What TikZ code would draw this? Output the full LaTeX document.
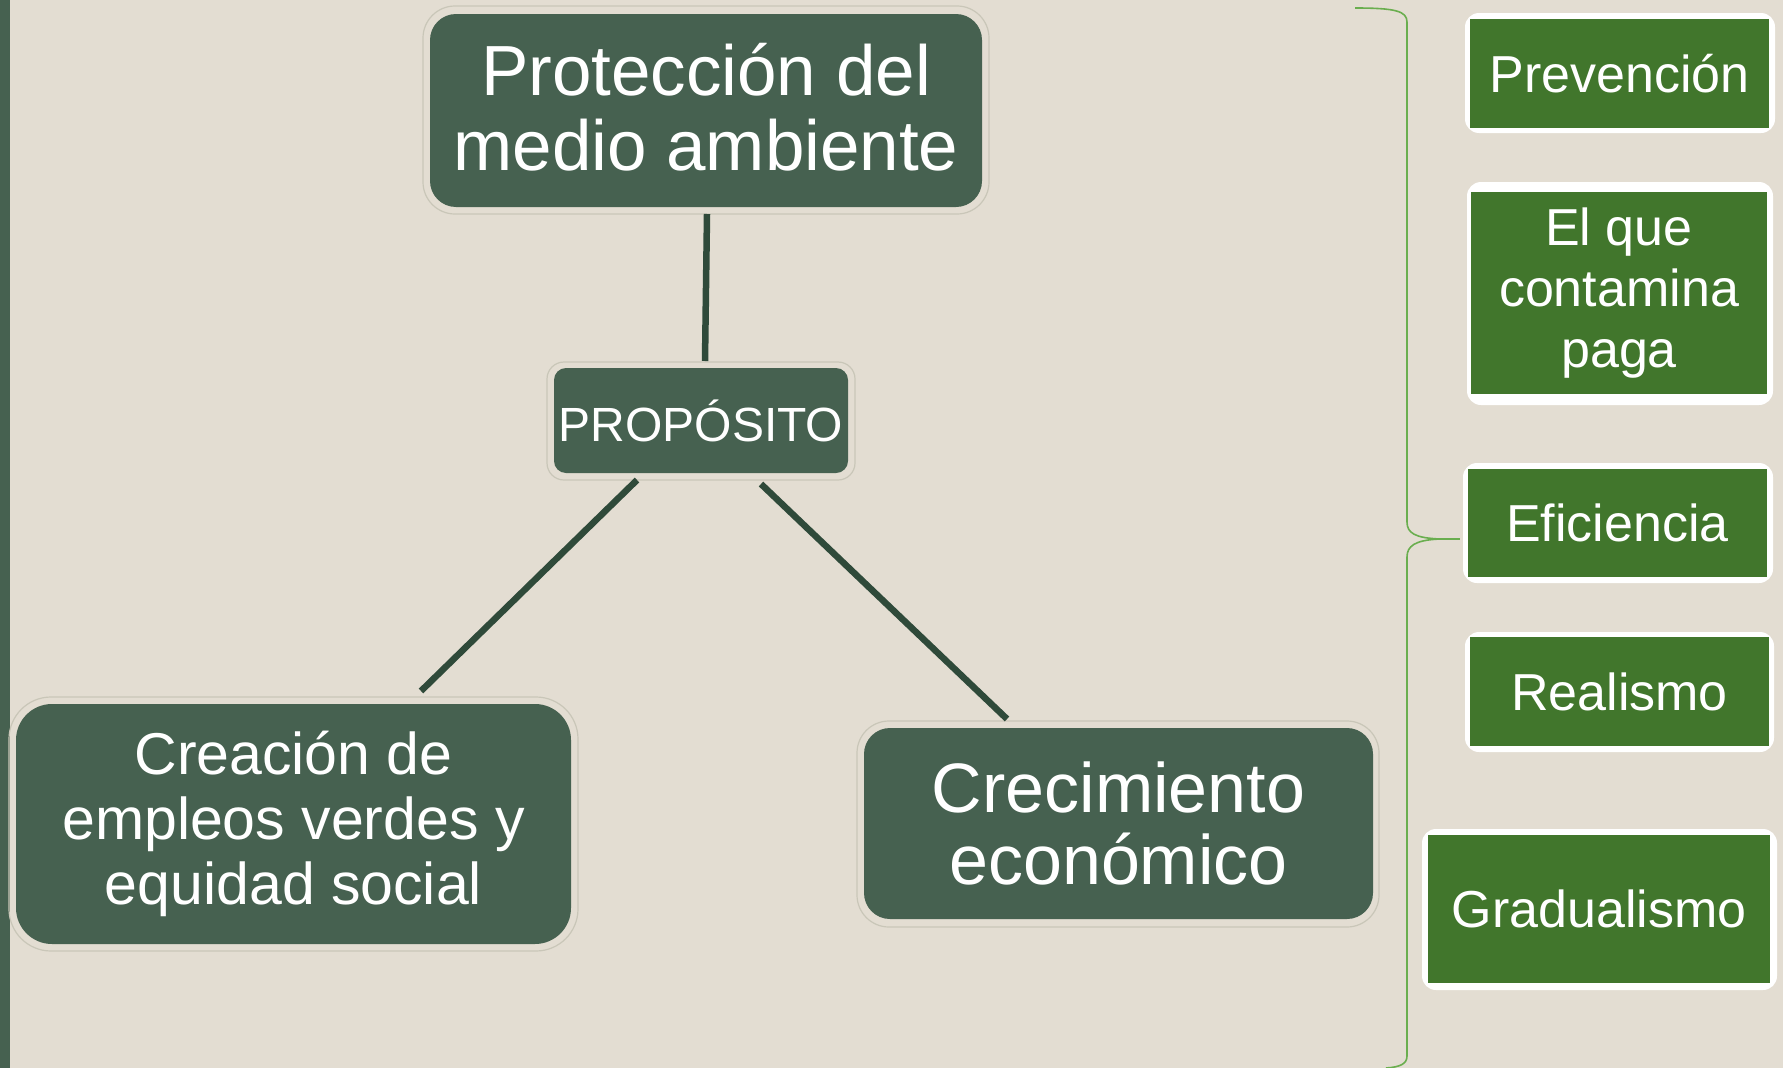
\documentclass[tikz,border=0pt]{standalone}
\usepackage{fontspec}
\setmainfont{Liberation Sans}
\definecolor{cBg}{HTML}{E3DDD2}
\definecolor{cDark}{HTML}{466150}
\definecolor{cConn}{HTML}{2F4A3A}
\definecolor{cRing}{HTML}{C9C6B8}
\definecolor{cLeaf}{HTML}{41762C}
\definecolor{cBrace}{HTML}{6AAE4F}
\begin{document}
\begin{tikzpicture}[x=1pt,y=-1pt,
  darkbox/.style={fill=cDark, text=white, align=center, inner sep=0pt, outer sep=7pt},
  ringline/.style={draw=cRing, line width=1.2pt},
  link/.style={draw=cConn, line width=6.5pt},
  leafbox/.style={fill=cLeaf, text=white, align=center, inner sep=0pt, font=\fontsize{52}{58}\selectfont},
  leafframe/.style={fill=white, rounded corners=14pt},
  bracket/.style={draw=cBrace, line width=1.6pt}]
\useasboundingbox (0,0) rectangle (1783,1068);
\fill[cBg] (0,0) rectangle (1783,1068);
\fill[cDark] (0,0) rectangle (10,1068);

% main boxes
\draw[ringline, rounded corners=32pt] (423,6) rectangle (989,214);
\node[darkbox, rounded corners=26pt, minimum width=552pt, minimum height=193pt,
      font=\fontsize{71}{75}\selectfont, text depth=8pt] (top) at (706,110.5) {Protección del\\medio ambiente};

\draw[ringline, rounded corners=17pt] (547,362) rectangle (855,480);
\node[darkbox, rounded corners=12pt, minimum width=294pt, minimum height=105pt,
      font=\fontsize{48}{52}\selectfont] (prop) at (701,420.5) {PROPÓSITO};

\draw[ringline, rounded corners=42pt] (9,697) rectangle (578,951);
\node[darkbox, rounded corners=36pt, minimum width=555pt, minimum height=240pt,
      font=\fontsize{59}{65}\selectfont] (crea) at (293.5,824) {Creación de\\empleos verdes y\\equidad social};

\draw[ringline, rounded corners=32pt] (857,721) rectangle (1379,927);
\node[darkbox, rounded corners=26pt, minimum width=509pt, minimum height=191pt,
      font=\fontsize{70}{72}\selectfont] (crec) at (1118.5,823.5) {Crecimiento\\económico};

% connectors
\draw[link] ([xshift=1pt]top.south) -- ([xshift=4pt]prop.north);
\draw[link] ([xshift=-64pt]prop.south) -- ([xshift=127.5pt,yshift=6pt]crea.north);
\draw[link] ([xshift=60pt,yshift=-4pt]prop.south) -- ([xshift=-111.5pt,yshift=2pt]crec.north);

% right column
\fill[leafframe] (1465,13) rectangle (1775,133);
\node[leafbox, minimum width=299pt, minimum height=109pt] (prev) at (1619.5,73.5) {Prevención};
\fill[leafframe] (1467,182) rectangle (1773,405);
\node[leafbox, minimum width=296pt, minimum height=202pt,
      font=\fontsize{52}{61}\selectfont] (elque) at (1619,293) {El que\\contamina\\paga};
\fill[leafframe] (1463,463) rectangle (1773,583);
\node[leafbox, minimum width=299pt, minimum height=108pt] (efi) at (1617.5,523) {Eficiencia};
\fill[leafframe] (1465,632) rectangle (1774,752);
\node[leafbox, minimum width=299pt, minimum height=109pt] (real) at (1619.5,691.5) {Realismo};
\fill[leafframe] (1422,829) rectangle (1777,990);
\node[leafbox, minimum width=342pt, minimum height=148pt] (grad) at (1599,909) {Gradualismo};

% brace
\coordinate (tip) at ([xshift=-8pt,yshift=-16pt]efi.west);
\draw[bracket] (1355,8) .. controls (1395,8) and (1407,11) .. (1407,22)
  -- (1407,522) .. controls (1407,533) and (1415,538) .. (1440,539) -- (tip)
  -- (1440,539) .. controls (1415,540) and (1407,546) .. (1407,557)
  -- (1407,1056) .. controls (1407,1064) and (1400,1067) .. (1386,1068);
\end{tikzpicture}
\end{document}
